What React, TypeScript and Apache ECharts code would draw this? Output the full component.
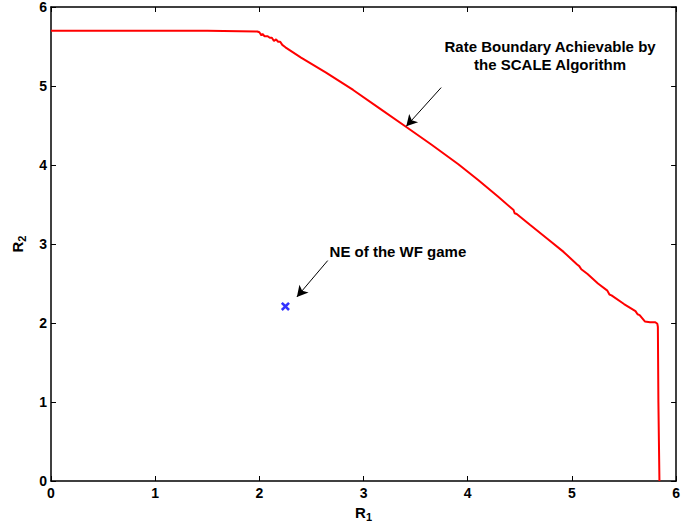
import React, { useEffect, useRef } from "react";
import * as echarts from "echarts";

// Rate boundary achievable by the SCALE algorithm (R1, R2)
const boundaryR1 = [
  0.0, 0.5, 1.0, 1.5, 1.98, 2.0, 2.02, 2.03, 2.05, 2.08, 2.1, 2.12, 2.14, 2.16, 2.18, 2.2, 2.22, 2.25,
  2.4, 2.64, 2.9, 3.15, 3.4, 3.65, 3.91, 4.1, 4.29, 4.44, 4.45, 4.47, 4.6, 4.77, 4.92, 5.05, 5.07, 5.09,
  5.15, 5.25, 5.34, 5.36, 5.38, 5.5, 5.61, 5.63, 5.65, 5.70, 5.75, 5.80, 5.82, 5.825, 5.83, 5.835, 5.84,
];
const boundaryR2 = [
  5.70, 5.70, 5.70, 5.70, 5.69, 5.68, 5.64, 5.66, 5.63, 5.63, 5.61, 5.61, 5.57, 5.59, 5.56, 5.56, 5.52, 5.49,
  5.36, 5.17, 4.95, 4.72, 4.49, 4.26, 4.01, 3.81, 3.60, 3.43, 3.39, 3.38, 3.24, 3.06, 2.90, 2.74, 2.72, 2.68,
  2.62, 2.50, 2.41, 2.36, 2.35, 2.24, 2.15, 2.11, 2.10, 2.02, 2.01, 2.01, 1.99, 1.95, 1.0, 0.5, 0.0,
];

// Nash equilibrium of the WF game
const nePoint = [2.25, 2.21];

// Annotations (data coordinates)
const annBoundaryText = ["Rate Boundary Achievable by", "the SCALE Algorithm"];
const annBoundaryLabelAt = [4.79, 5.38];
const annBoundaryArrow = [[3.745, 4.98], [3.41, 4.49]];
const annNeText = "NE of the WF game";
const annNeLabelAt = [3.33, 2.91];
const annNeArrow = [[2.656, 2.79], [2.36, 2.33]];

const xTicks = [0, 1, 2, 3, 4, 5, 6];
const yTicks = [0, 1, 2, 3, 4, 5, 6];

const FONT = "'Liberation Sans', Arial, sans-serif";

export default function App() {
  const ref = useRef<HTMLDivElement>(null);
  useEffect(() => {
    if (!ref.current) return;
    const chart = echarts.init(ref.current, null, { renderer: "svg" });
    const tickStyle = { show: true, inside: true, length: 5, lineStyle: { color: "#000", width: 1 } };
    const lineStyle = { color: "#000", width: 1.5 };
    const labelStyle = { color: "#000", fontFamily: FONT, fontWeight: "bold" as const, fontSize: 14 };
    const nameRich = {
      b: { fontFamily: FONT, fontWeight: "bold", fontSize: 15, color: "#000" },
      s: { fontFamily: FONT, fontWeight: "bold", fontSize: 11, color: "#000", padding: [9, 0, 0, 0] },
    };
    const boundary = boundaryR1.map((x, i) => [x, boundaryR2[i]]);
    chart.setOption({
      animation: false,
      backgroundColor: "#fff",
      grid: { left: 51, right: 4, top: 4, bottom: 50, containLabel: false },
      xAxis: [
        {
          type: "value",
          min: xTicks[0],
          max: xTicks[xTicks.length - 1],
          interval: 1,
          axisLine: { show: true, onZero: false, lineStyle },
          axisTick: tickStyle,
          splitLine: { show: false },
          axisLabel: { ...labelStyle, margin: 5 },
          name: "{b|R}{s|1}",
          nameLocation: "middle",
          nameGap: 20,
          nameTextStyle: { rich: nameRich },
        },
        {
          type: "value",
          position: "top",
          min: xTicks[0],
          max: xTicks[xTicks.length - 1],
          interval: 1,
          axisLine: { show: true, onZero: false, lineStyle },
          axisTick: tickStyle,
          splitLine: { show: false },
          axisLabel: { show: false },
        },
      ],
      yAxis: [
        {
          type: "value",
          min: yTicks[0],
          max: yTicks[yTicks.length - 1],
          interval: 1,
          axisLine: { show: true, onZero: false, lineStyle },
          axisTick: tickStyle,
          splitLine: { show: false },
          axisLabel: { ...labelStyle, margin: 4 },
          name: "{b|R}{s|2}",
          nameLocation: "middle",
          nameGap: 24,
          nameRotate: 90,
          nameTextStyle: { rich: nameRich },
        },
        {
          type: "value",
          position: "right",
          min: yTicks[0],
          max: yTicks[yTicks.length - 1],
          interval: 1,
          axisLine: { show: true, onZero: false, lineStyle },
          axisTick: tickStyle,
          splitLine: { show: false },
          axisLabel: { show: false },
        },
      ],
      series: [
        {
          type: "line",
          data: boundary,
          showSymbol: false,
          symbol: "none",
          lineStyle: { color: "#ff0000", width: 2 },
          z: 3,
          markLine: {
            silent: true,
            symbol: ["none", "arrow"],
            symbolSize: [9, 11],
            lineStyle: { color: "#000", width: 1, type: "solid" },
            label: { show: false },
            data: [
              [{ coord: annBoundaryArrow[0] }, { coord: annBoundaryArrow[1] }],
              [{ coord: annNeArrow[0] }, { coord: annNeArrow[1] }],
            ],
          },
          markPoint: {
            silent: true,
            symbol: "circle",
            symbolSize: 0,
            data: [
              {
                coord: annBoundaryLabelAt,
                label: {
                  show: true,
                  position: "inside",
                  formatter: annBoundaryText.join("\n"),
                  fontFamily: FONT,
                  fontWeight: "bold",
                  fontSize: 15,
                  lineHeight: 18,
                  align: "center",
                  color: "#000",
                },
              },
              {
                coord: annNeLabelAt,
                label: {
                  show: true,
                  position: "inside",
                  formatter: annNeText,
                  fontFamily: FONT,
                  fontWeight: "bold",
                  fontSize: 15,
                  color: "#000",
                },
              },
            ],
          },
        },
        {
          type: "scatter",
          data: [nePoint],
          symbol: "path://M0,2 L2,0 L5,3 L8,0 L10,2 L7,5 L10,8 L8,10 L5,7 L2,10 L0,8 L3,5 Z",
          symbolSize: 9,
          itemStyle: { color: "#0000ff" },
          z: 4,
        },
      ],
    });
    return () => chart.dispose();
  }, []);
  return <div ref={ref} style={{ width: 683, height: 531, position: "absolute", left: 0, top: 0 }} />;
}
